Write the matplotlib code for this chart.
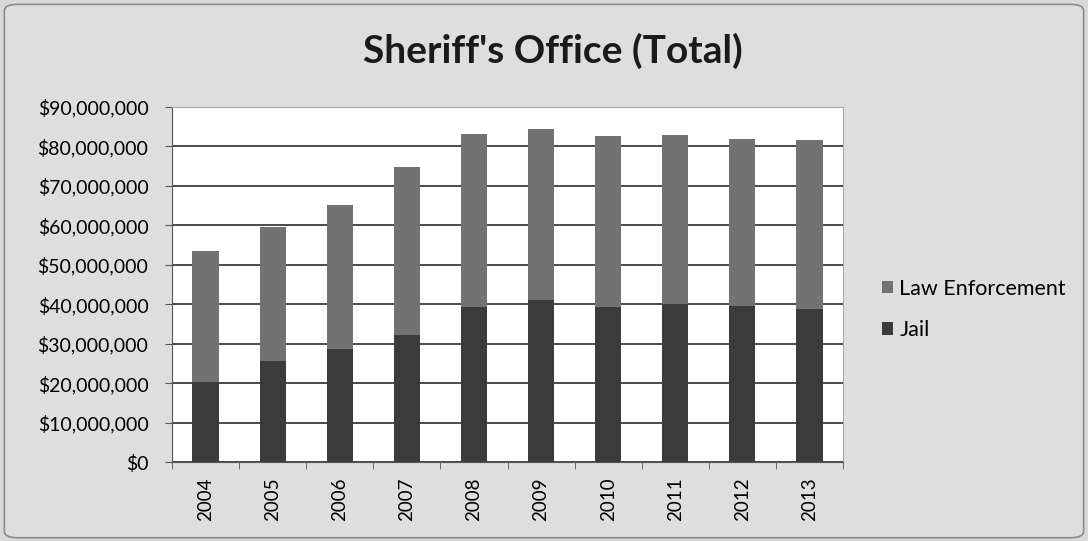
import matplotlib.pyplot as plt
from matplotlib.patches import FancyBboxPatch
from matplotlib.ticker import FuncFormatter, MultipleLocator

years = ['2004', '2005', '2006', '2007', '2008', '2009', '2010', '2011', '2012', '2013']
jail = [20.4, 25.6, 28.6, 32.2, 39.2, 41.1, 39.2, 40.0, 39.6, 38.8]
total = [53.6, 59.6, 65.2, 74.7, 83.2, 84.4, 82.6, 82.8, 81.9, 81.7]
law_enf = [t - j for t, j in zip(total, jail)]

plt.rcParams['font.family'] = ['Lato', 'DejaVu Sans']

fig = plt.figure(figsize=(10.88, 5.41), dpi=100)
fig.patch.set_facecolor('#d9d9d9')
fig.patches.append(FancyBboxPatch((0.004, 0.006), 0.992, 0.986, boxstyle='round,pad=0,rounding_size=0.012',
                                  transform=fig.transFigure, facecolor='#dedede', edgecolor='#8a8a8a',
                                  linewidth=1.2, zorder=-1))

ax = fig.add_axes([172 / 1088, 1 - 462 / 541, (843 - 172) / 1088, (462 - 107) / 541])
ax.set_facecolor('white')

x = range(len(years))
ax.bar(x, [v * 1e6 for v in jail], width=0.39, color='#3b3b3b', label='Jail', zorder=3)
ax.bar(x, [v * 1e6 for v in law_enf], width=0.39, bottom=[v * 1e6 for v in jail],
       color='#727272', label='Law Enforcement', zorder=3)

ax.set_xlim(-0.5, len(years) - 0.5)
ax.set_ylim(0, 90e6)
ax.yaxis.set_major_locator(MultipleLocator(10e6))
ax.yaxis.set_major_formatter(FuncFormatter(lambda v, p: '${:,.0f}'.format(v)))
ax.grid(axis='y', color='#1a1a1a', linewidth=1.1, zorder=1)

ax.set_xticks(list(x))
ax.set_xticklabels(years, rotation=90, fontsize=13.5)
ax.set_xticks([i + 0.5 for i in range(-1, len(years))], minor=True)
ax.tick_params(axis='x', which='major', length=0, pad=11)
ax.tick_params(axis='x', which='minor', length=5, color='#555555')
ax.tick_params(axis='y', labelsize=14, length=5, color='#555555', pad=12)
for side in ['top', 'right']:
    ax.spines[side].set_color('#aaaaaa')
for side in ['left', 'bottom']:
    ax.spines[side].set_color('#555555')

fig.text(0.508, 0.906, "Sheriff's Office (Total)", ha='center', va='center', fontsize=28, fontweight='bold',
         color='#1a1a1a')

handles, labels = ax.get_legend_handles_labels()
fig.legend(handles[::-1], labels[::-1], loc='center left', bbox_to_anchor=(0.793, 0.428), frameon=False,
           fontsize=15.5, handlelength=0.5, handleheight=0.5, handletextpad=0.3, labelspacing=1.0)

fig.savefig('out.png', dpi=100, facecolor=fig.get_facecolor())
